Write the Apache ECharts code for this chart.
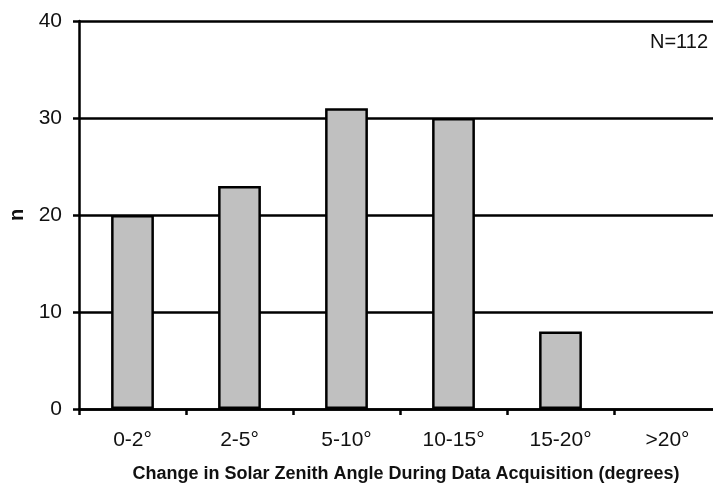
<!DOCTYPE html>
<html><head><meta charset="utf-8">
<script src="https://cdn.jsdelivr.net/npm/echarts@6/dist/echarts.min.js"></script>
<style>html,body{margin:0;padding:0;background:#fff}#c{width:713px;height:486px}</style>
</head><body><div id="c"></div>
<script>
var categories = ['0-2°','2-5°','5-10°','10-15°','15-20°','>20°'];
var counts = [20, 23, 31, 30, 8, 0];
var yTicks = {min: 0, max: 40, interval: 10};
var chart = echarts.init(document.getElementById('c'));
chart.setOption({
  animation: false,
  backgroundColor: '#fff',
  textStyle: {fontFamily: 'Liberation Sans, Arial, sans-serif'},
  grid: {left: 79, top: 21, width: 642, height: 388, containLabel: false, outerBoundsMode: 'none'},
  graphic: [{type: 'text', right: 5, top: 32, style: {text: 'N=112', font: '20px Liberation Sans, Arial, sans-serif', fill: '#111'}}],
  xAxis: {
    type: 'category', data: categories,
    axisLine: {lineStyle: {color: '#000', width: 2.5}},
    axisTick: {show: true, alignWithLabel: false, length: 6, lineStyle: {color: '#000', width: 2.5}},
    axisLabel: {color: '#111', fontSize: 21, margin: 21},
    name: 'Change in Solar Zenith Angle During Data Acquisition (degrees)',
    nameLocation: 'middle', nameGap: 56,
    nameTextStyle: {color: '#111', fontSize: 18, fontWeight: 'bold', padding: [0, 0, 0, 12]}
  },
  yAxis: {
    type: 'value', min: yTicks.min, max: yTicks.max, interval: yTicks.interval,
    axisLine: {show: true, lineStyle: {color: '#000', width: 2.5}},
    axisTick: {show: true, length: 6, lineStyle: {color: '#000', width: 2.5}},
    axisLabel: {color: '#111', fontSize: 21, margin: 17},
    splitLine: {show: true, lineStyle: {color: '#000', width: 2.5}},
    name: 'n', nameLocation: 'middle', nameGap: 51, nameRotate: 90,
    nameTextStyle: {color: '#111', fontSize: 20, fontWeight: 'bold'}
  },
  series: [{
    type: 'bar',
    data: counts.map(function (v) { return v === 0 ? {value: v, itemStyle: {borderWidth: 0}} : v; }),
    barWidth: '40%',
    itemStyle: {color: '#c0c0c0', borderColor: '#000', borderWidth: 2.5}
  }]
});
</script></body></html>
